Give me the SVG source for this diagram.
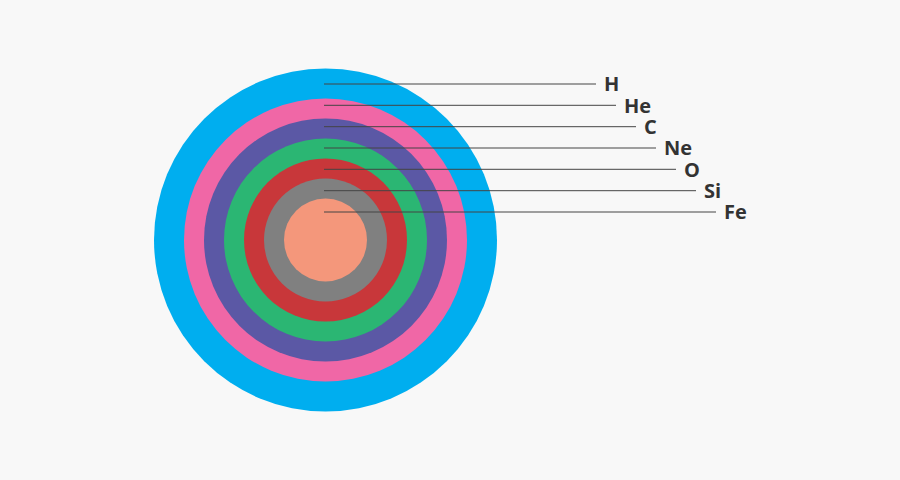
<svg xmlns="http://www.w3.org/2000/svg" width="900" height="480" viewBox="0 0 900 480">
<style>
.lbl{font-family:"Open Sans","Liberation Sans",sans-serif;font-weight:700;font-size:20px;fill:#333}
.ln{stroke:#444;stroke-width:1}
</style>
<rect width="900" height="480" fill="#f8f8f8"/>
<g id="layers">
<circle id="H" cx="325.5" cy="240" r="171.5" fill="#00aeef"/>
<circle id="He" cx="325.5" cy="240" r="141.5" fill="#f067a6"/>
<circle id="C" cx="325.5" cy="240" r="121.5" fill="#5b58a5"/>
<circle id="Ne" cx="325.5" cy="240" r="101.5" fill="#2bb673"/>
<circle id="O" cx="325.5" cy="240" r="81.5" fill="#c8373a"/>
<circle id="Si" cx="325.5" cy="240" r="61.5" fill="#808080"/>
<circle id="Fe" cx="325.5" cy="240" r="41.5" fill="#f4977b"/>
</g>
<g id="connectors">
<line class="ln" x1="324" y1="84" x2="596" y2="84"/>
<line class="ln" x1="324" y1="105.3" x2="616" y2="105.3"/>
<line class="ln" x1="324" y1="126.7" x2="636" y2="126.7"/>
<line class="ln" x1="324" y1="148" x2="656" y2="148"/>
<line class="ln" x1="324" y1="169.3" x2="676" y2="169.3"/>
<line class="ln" x1="324" y1="190.7" x2="696" y2="190.7"/>
<line class="ln" x1="324" y1="212" x2="716" y2="212"/>
</g>
<g id="labels">
<text class="lbl" x="604" y="91.3">H</text>
<text class="lbl" x="624" y="112.6">He</text>
<text class="lbl" x="644" y="134">C</text>
<text class="lbl" x="664" y="155.3">Ne</text>
<text class="lbl" x="684" y="176.6">O</text>
<text class="lbl" x="704" y="198">Si</text>
<text class="lbl" x="724" y="219.3">Fe</text>
</g>
</svg>
